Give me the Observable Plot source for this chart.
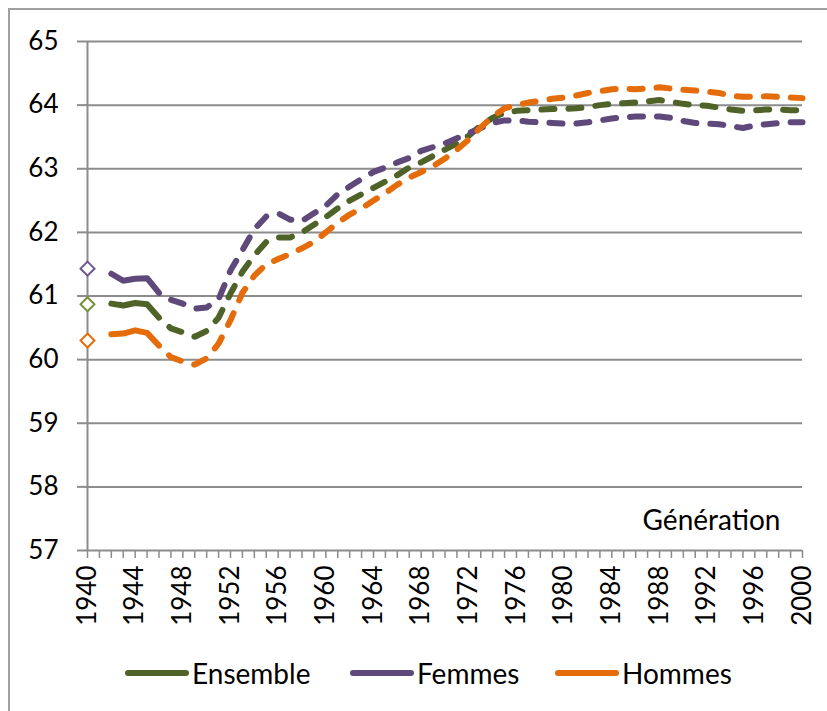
<!DOCTYPE html>
<html>
<head>
<meta charset="utf-8">
<script src="https://cdn.jsdelivr.net/npm/d3@7"></script>
<script src="https://cdn.jsdelivr.net/npm/@observablehq/plot@0.6"></script>
<style>
  body { margin: 0; background: #fff; font-family: Lato, "Open Sans", sans-serif; }
  #wrap { position: relative; width: 827px; height: 711px; overflow: hidden; background: #fff; }
  #frame { position: absolute; left: 8px; top: 8px; width: 840px; height: 720px;
           border-left: 2px solid #a0a0a0; border-top: 2px solid #a0a0a0; }
  #chart { position: absolute; left: 0; top: 0; }
  #legend { position: absolute; top: 655px; left: 0; width: 827px; height: 40px; }
  .item { position: absolute; top: 0; display: flex; align-items: center; height: 36px;
          font-size: 28px; color: #000; }
  .sw { display: inline-block; width: 64px; height: 6px; border-radius: 3px; margin-right: 3px; }
</style>
</head>
<body>
<div id="wrap">
  <div id="frame"></div>
  <div id="chart"></div>
  <div id="legend"></div>
</div>
<script>
// ---- data ----
const series = ["Ensemble", "Femmes", "Hommes"];
const lineColors = ["#4f6228", "#5f497a", "#e46c0a"];
const diamondColors = ["#77933c", "#6a5590", "#e46c0a"];
const startYear = 1940;
const startValues = [60.87, 61.43, 60.30];
const years = d3.range(1942, 2001);
const ensemble = [60.88, 60.85, 60.89, 60.87, 60.66, 60.49, 60.43, 60.36, 60.45, 60.66,
  61.04, 61.38, 61.64, 61.85, 61.92, 61.92, 62.00, 62.12, 62.24, 62.38,
  62.50, 62.60, 62.70, 62.80, 62.90, 63.02, 63.10, 63.20, 63.30, 63.40,
  63.52, 63.68, 63.80, 63.88, 63.91, 63.92, 63.93, 63.94, 63.94, 63.95,
  63.97, 64.00, 64.02, 64.03, 64.04, 64.06, 64.08, 64.05, 64.02, 64.00,
  63.99, 63.96, 63.93, 63.91, 63.92, 63.93, 63.93, 63.92, 63.92];
const femmes = [61.35, 61.24, 61.27, 61.28, 61.05, 60.94, 60.88, 60.80, 60.82, 60.95,
  61.40, 61.72, 62.05, 62.25, 62.30, 62.20, 62.18, 62.30, 62.42, 62.60,
  62.72, 62.84, 62.95, 63.02, 63.10, 63.17, 63.28, 63.34, 63.40, 63.48,
  63.56, 63.64, 63.72, 63.76, 63.76, 63.74, 63.73, 63.72, 63.71, 63.71,
  63.73, 63.76, 63.79, 63.81, 63.82, 63.82, 63.82, 63.80, 63.75, 63.72,
  63.71, 63.70, 63.67, 63.64, 63.68, 63.70, 63.72, 63.73, 63.73];
const hommes = [60.40, 60.41, 60.46, 60.42, 60.22, 60.04, 59.97, 59.92, 60.02, 60.25,
  60.62, 61.05, 61.32, 61.50, 61.58, 61.66, 61.75, 61.85, 62.00, 62.15,
  62.28, 62.38, 62.50, 62.62, 62.75, 62.86, 62.95, 63.04, 63.16, 63.30,
  63.46, 63.65, 63.82, 63.95, 64.00, 64.04, 64.07, 64.10, 64.12, 64.15,
  64.19, 64.22, 64.25, 64.26, 64.25, 64.26, 64.28, 64.26, 64.24, 64.23,
  64.21, 64.19, 64.15, 64.13, 64.13, 64.14, 64.13, 64.12, 64.11];
const values = [ensemble, femmes, hommes];
const solidEndYear = 1946;
const yTicks = [57, 58, 59, 60, 61, 62, 63, 64, 65];
const xLabelTicks = [1940, 1944, 1948, 1952, 1956, 1960, 1964, 1968, 1972, 1976, 1980, 1984, 1988, 1992, 1996, 2000];
const xMinorTicks = d3.range(1940, 2001);
const xTitle = "Génération";

// ---- build ----
const gridColor = "#8c8c8c";
const lineMarks = [];
series.forEach((s, i) => {
  const rows = years.map((yr, j) => ({year: yr, value: values[i][j]}));
  const solid = rows.filter(d => d.year <= solidEndYear);
  const dashed = rows.filter(d => d.year >= solidEndYear);
  lineMarks.push(Plot.line(solid, {x: "year", y: "value", stroke: lineColors[i], strokeWidth: 6,
    strokeLinecap: "round", strokeLinejoin: "round"}));
  lineMarks.push(Plot.line(dashed, {x: "year", y: "value", stroke: lineColors[i], strokeWidth: 6,
    strokeLinecap: "round", strokeLinejoin: "round", strokeDasharray: "13,14", strokeDashoffset: -14}));
});
const diamonds = series.map((s, i) => ({serie: s, year: startYear, value: startValues[i], color: diamondColors[i]}));

const chart = Plot.plot({
  width: 827,
  height: 640,
  marginLeft: 87,
  marginRight: 25,
  marginTop: 41,
  marginBottom: 90,
  style: {fontFamily: "Lato, 'Open Sans', sans-serif", fontSize: "26px", color: "#000", background: "transparent", overflow: "visible"},
  x: {domain: [1940, 2000]},
  y: {domain: [57, 65]},
  marks: [
    Plot.ruleY(yTicks, {stroke: gridColor, strokeWidth: 2}),
    Plot.ruleX([1940], {stroke: gridColor, strokeWidth: 2}),
    Plot.axisY({ticks: yTicks, tickSize: 10, tickPadding: 19, stroke: gridColor, strokeWidth: 2,
      tickFormat: d => String(d), label: null, fill: "#000"}),
    Plot.axisX({ticks: xMinorTicks, tickSize: 8, stroke: gridColor, strokeWidth: 1.5, tickFormat: () => "", label: null}),
    Plot.axisX({ticks: xLabelTicks, tickSize: 0, tickPadding: 15, tickRotate: -90,
      tickFormat: d => String(d), label: null, fill: "#000"}),
    Plot.text([xTitle], {frameAnchor: "bottom-right", dx: -22, dy: -21, fill: "#000", fontSize: 28}),
    ...lineMarks,
    Plot.dot(diamonds, {x: "year", y: "value", symbol: "diamond2", r: 6.3, fill: "#fff", stroke: "color", strokeWidth: 2})
  ]
});
document.getElementById("chart").appendChild(chart);

// ---- legend ----
const legendLeft = [125, 350, 555];
const legend = document.getElementById("legend");
series.forEach((s, i) => {
  const item = document.createElement("div");
  item.className = "item";
  item.style.left = legendLeft[i] + "px";
  const sw = document.createElement("span");
  sw.className = "sw";
  sw.style.background = lineColors[i];
  const label = document.createElement("span");
  label.textContent = s;
  item.appendChild(sw);
  item.appendChild(label);
  legend.appendChild(item);
});
</script>
</body>
</html>
